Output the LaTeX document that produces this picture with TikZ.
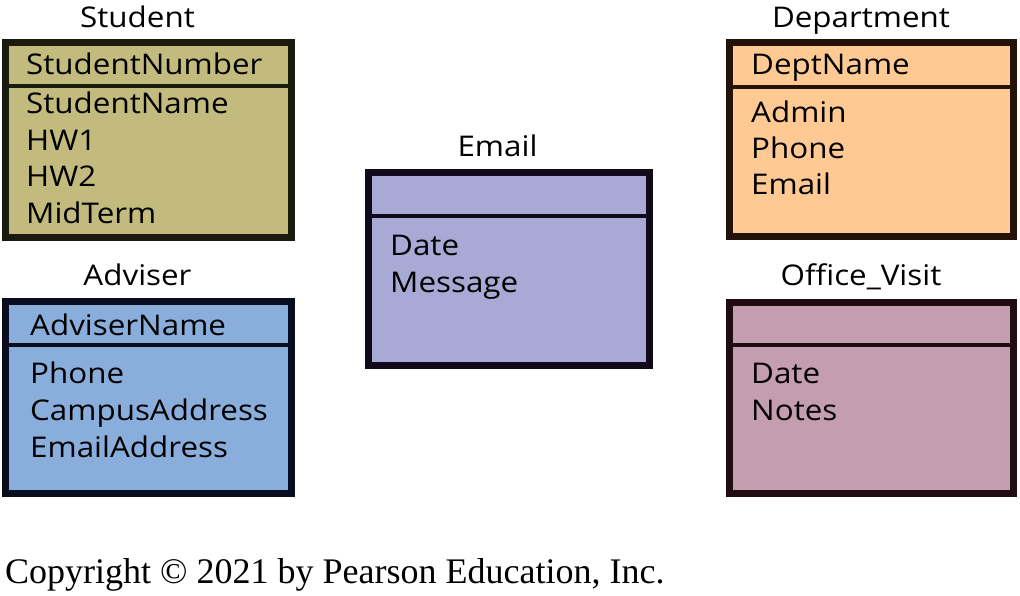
\documentclass[tikz,border=0pt]{standalone}
\usepackage{fontspec}
\setmainfont{Open Sans}[FakeStretch=1.1]
\newfontfamily\copyfont{Liberation Serif}
\definecolor{stufill}{RGB}{194,187,125}
\definecolor{advfill}{RGB}{138,174,220}
\definecolor{emlfill}{RGB}{169,169,214}
\definecolor{depfill}{RGB}{255,201,148}
\definecolor{offfill}{RGB}{196,157,176}
\definecolor{stuline}{RGB}{26,26,14}
\definecolor{advline}{RGB}{10,12,32}
\definecolor{emlline}{RGB}{16,10,26}
\definecolor{depline}{RGB}{34,18,8}
\definecolor{offline}{RGB}{34,12,20}
\begin{document}
\begin{tikzpicture}[x=1pt,y=-1pt,
  entbox/.style={line width=7pt},
  divline/.style={line width=3.5pt},
  ttl/.style={inner sep=0pt,anchor=base,font=\fontsize{28.5}{32}\selectfont},
  attr/.style={inner sep=0pt,anchor=base west,font=\fontsize{28.5}{32}\selectfont}]
\useasboundingbox (0,0) rectangle (1020,595);
% Student
\filldraw[entbox,fill=stufill,draw=stuline] (5.5,42.5) rectangle (291.5,237.5);
\draw[divline,draw=stuline] (5.5,86) -- (291.5,86);
\node[ttl] (stuT) at (137.5,27) {Student};
\node[attr] (stuK) at (26,74) {StudentNumber};
\node[attr] (stu1) at (26,113) {StudentName};
\node[attr] (stu2) at (26,150) {HW1};
\node[attr] (stu3) at (26,186) {HW2};
\node[attr] (stu4) at (26,223) {MidTerm};
% Adviser
\filldraw[entbox,fill=advfill,draw=advline] (5.5,301.5) rectangle (291.5,493.5);
\draw[divline,draw=advline] (5.5,345) -- (291.5,345);
\node[ttl] (advT) at (137.5,285) {Adviser};
\node[attr] (advK) at (30,335) {AdviserName};
\node[attr] (adv1) at (30,383) {Phone};
\node[attr] (adv2) at (30,420) {CampusAddress};
\node[attr] (adv3) at (30,457) {EmailAddress};
% Email
\filldraw[entbox,fill=emlfill,draw=emlline] (368.5,172.5) rectangle (649.5,365.5);
\draw[divline,draw=emlline] (368.5,216) -- (649.5,216);
\node[ttl] (emlT) at (497.5,156) {Email};
\node[attr] (eml1) at (390,255) {Date};
\node[attr] (eml2) at (390,292) {Message};
% Department
\filldraw[entbox,fill=depfill,draw=depline] (729.5,42.5) rectangle (1013.5,236.5);
\draw[divline,draw=depline] (729.5,87) -- (1013.5,87);
\node[ttl] (depT) at (861,27) {Department};
\node[attr] (depK) at (751,74) {DeptName};
\node[attr] (dep1) at (751,122) {Admin};
\node[attr] (dep2) at (751,158) {Phone};
\node[attr] (dep3) at (751,194) {Email};
% Office_Visit
\filldraw[entbox,fill=offfill,draw=offline] (729.5,302.5) rectangle (1013.5,493.5);
\draw[divline,draw=offline] (729.5,345) -- (1013.5,345);
\node[ttl] (offT) at (861,285) {Office\_Visit};
\node[attr] (off1) at (751,383) {Date};
\node[attr] (off2) at (751,420) {Notes};
% Copyright
\node[inner sep=0pt,anchor=base west,font=\copyfont\fontsize{36}{42}\selectfont] (copy) at (5,583) {Copyright \textcopyright{} 2021 by Pearson Education, Inc.};
\end{tikzpicture}
\end{document}
